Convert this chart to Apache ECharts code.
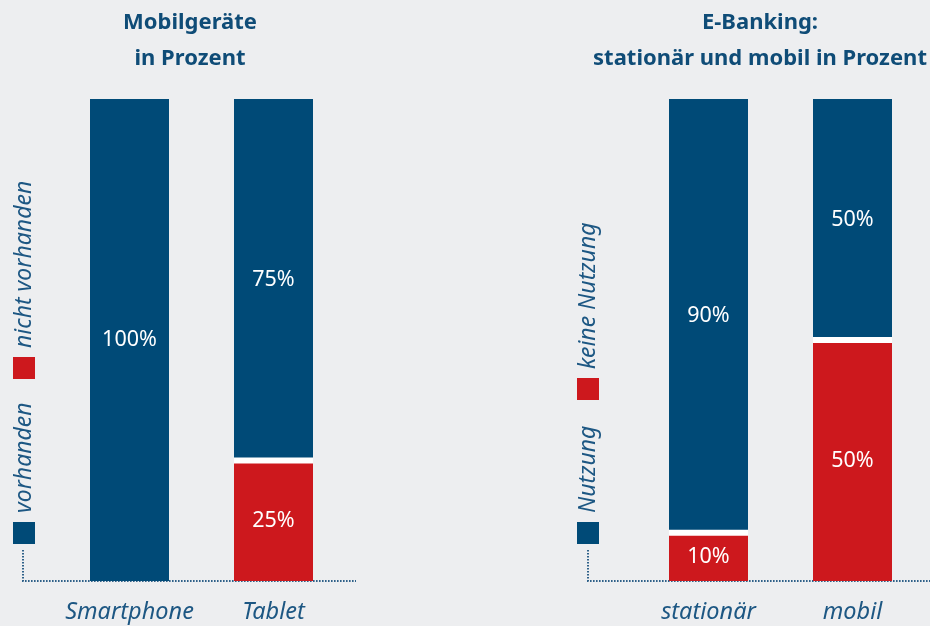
<!DOCTYPE html>
<html>
<head>
<meta charset="utf-8">
<script src="https://cdn.jsdelivr.net/npm/echarts@6/dist/echarts.min.js"></script>
<style>
  html, body { margin: 0; padding: 0; background: #edeef0; }
  #chart { width: 930px; height: 626px; }
</style>
</head>
<body>
<div id="chart"></div>
<script>
// Panel 1: mobile devices owned (percent)
const deviceCategories = ['Smartphone', 'Tablet'];
const deviceOwned = [100, 75];     // vorhanden
const deviceNotOwned = [0, 25];    // nicht vorhanden
const deviceLegend = ['vorhanden', 'nicht vorhanden'];
const deviceTitle = 'Mobilgeräte\nin Prozent';

// Panel 2: e-banking use (percent)
const bankingCategories = ['stationär', 'mobil'];
const bankingUsed = [90, 50];      // Nutzung
const bankingNotUsed = [10, 50];   // keine Nutzung
const bankingLegend = ['Nutzung', 'keine Nutzung'];
const bankingTitle = 'E-Banking:\nstationär und mobil in Prozent';

const BLUE = '#004a77';
const RED = '#cd181d';
const TEXT = '#0f4c77';
const DOTS = '#2f6189';
const FONT = '"Noto Sans", "Open Sans", sans-serif';
const BAR_W = 79;

const chart = echarts.init(document.getElementById('chart'));

const grids = [
  { left: 57.5, top: 99, width: 288, height: 482 },
  { left: 636.5, top: 99, width: 288, height: 482 }
];

function xAxisFor(idx, cats) {
  return {
    type: 'category', gridIndex: idx, data: cats,
    axisLine: { show: false }, axisTick: { show: false },
    axisLabel: {
      interval: 0, color: '#1d5783', fontSize: 23.5, fontStyle: 'italic', fontFamily: FONT,
      margin: 20
    }
  };
}
function yAxisFor(idx) {
  return { type: 'value', gridIndex: idx, min: 0, max: 100, show: false };
}

const pctLabel = {
  show: true, position: 'inside', color: '#ffffff', fontSize: 21.5, fontFamily: FONT,
  formatter: p => (p.value > 0 ? p.value + '%' : '')
};

function stackSeries(idx, lower, upper) {
  const stack = 'panel' + idx;
  return [
    { type: 'bar', xAxisIndex: idx, yAxisIndex: idx, stack, data: lower,
      barWidth: BAR_W, itemStyle: { color: RED }, label: pctLabel, silent: true },
    { type: 'bar', xAxisIndex: idx, yAxisIndex: idx, stack, data: upper,
      barWidth: BAR_W, itemStyle: { color: BLUE }, label: pctLabel, silent: true },
    // white divider where the two segments meet
    { type: 'custom', xAxisIndex: idx, yAxisIndex: idx, silent: true, z: 5,
      data: lower.map((v, i) => [i, v]),
      renderItem: (params, api) => {
        const v = api.value(1);
        if (v <= 0 || v >= 100) return null;
        const pt = api.coord([api.value(0), v]);
        return { type: 'rect',
          shape: { x: pt[0] - BAR_W / 2, y: pt[1] - 3, width: BAR_W, height: 6 },
          style: { fill: '#ffffff' } };
      }
    }
  ];
}

function dottedFrame(x0, x1) {
  return { type: 'polyline', silent: true,
    shape: { points: [[x0, 550], [x0, 581], [x1, 581]] },
    style: { stroke: DOTS, lineWidth: 2, lineDash: [1.6, 1.4], fill: null } };
}

function legendBlock(x, names, textLen) {
  // squares + vertical italic labels reading bottom to top
  const els = [];
  let yBottom = 544;
  names.forEach((name, i) => {
    els.push({ type: 'rect', silent: true,
      shape: { x: x, y: yBottom - 22, width: 22, height: 22 },
      style: { fill: i === 0 ? BLUE : RED } });
    els.push({ type: 'text', silent: true, x: x + 11, y: yBottom - 31, rotation: Math.PI / 2,
      style: { text: name, fill: '#1d5783', fontSize: 23, fontStyle: 'italic', fontFamily: FONT,
        align: 'left', verticalAlign: 'middle' } });
    yBottom = yBottom - 22 - 9 - textLen[i] - 23;
  });
  return els;
}

function title(cx, text) {
  return { type: 'text', silent: true, x: cx, y: 5,
    style: { text, fill: TEXT, fontSize: 22, fontWeight: 'bold', fontFamily: FONT,
      align: 'center', verticalAlign: 'top', lineHeight: 36 } };
}

chart.setOption({
  backgroundColor: '#edeef0',
  animation: false,
  grid: grids,
  xAxis: [xAxisFor(0, deviceCategories), xAxisFor(1, bankingCategories)],
  yAxis: [yAxisFor(0), yAxisFor(1)],
  series: [
    ...stackSeries(0, deviceNotOwned, deviceOwned),
    ...stackSeries(1, bankingNotUsed, bankingUsed)
  ],
  graphic: [
    title(190, deviceTitle),
    title(760, bankingTitle),
    dottedFrame(23, 356),
    dottedFrame(588, 930),
    ...legendBlock(13, deviceLegend, [111, 175]),
    ...legendBlock(577, bankingLegend, [90, 155])
  ]
});
</script>
</body>
</html>
